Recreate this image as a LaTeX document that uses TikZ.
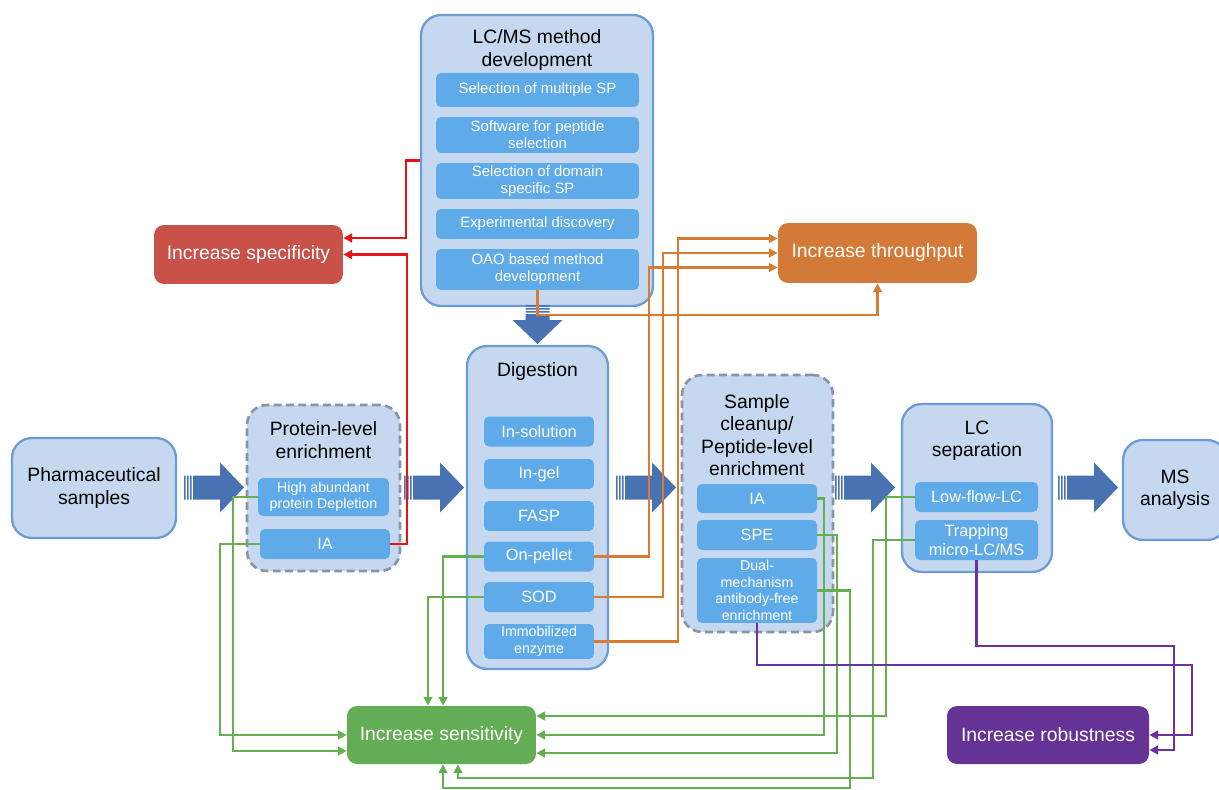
\documentclass[tikz,border=0pt]{standalone}
\usepackage{fontspec}
\setmainfont{Liberation Sans}
\usepackage{tikz}
\usetikzlibrary{arrows.meta}

\definecolor{boxfill}{RGB}{198,216,239}
\definecolor{boxline}{RGB}{108,155,214}
\definecolor{innerfill}{RGB}{95,171,234}
\definecolor{dashline}{RGB}{138,148,168}
\definecolor{arrowblue}{RGB}{72,114,177}
\definecolor{specred}{RGB}{200,82,74}
\definecolor{redline}{RGB}{230,20,25}
\definecolor{throrange}{RGB}{212,122,56}
\definecolor{orangeline}{RGB}{216,124,52}
\definecolor{sensgreen}{RGB}{99,173,84}
\definecolor{greenline}{RGB}{98,176,80}
\definecolor{robpurple}{RGB}{101,50,150}
\definecolor{purpleline}{RGB}{106,52,160}

\newcommand{\bigtxt}{\fontsize{11}{12.7}\selectfont}
\newcommand{\midtxt}{\fontsize{9.3}{10.8}\selectfont}
\newcommand{\lcmstxt}{\fontsize{8.5}{9.8}\selectfont}
\newcommand{\smalltxt}{\fontsize{8.1}{9.4}\selectfont}

\tikzset{
  stage/.style={draw=boxline, line width=1.3pt, fill=boxfill, rounded corners=0.4cm, inner sep=0pt, align=center, font=\bigtxt},
  optstage/.style={stage, draw=dashline, dash pattern=on 4.5pt off 2.5pt, line width=1.5pt},
  stagetitle/.style={align=center, font=\bigtxt},
  method/.style={fill=innerfill, rounded corners=0.1cm, text=white, align=center, inner sep=0pt, font=\midtxt},
  goal/.style={fill=#1, rounded corners=0.2cm, text=white, inner sep=0pt, font=\bigtxt},
  effect/.style={draw=#1, line width=1.3pt, -{Triangle[length=5pt,width=5pt]}},
  pics/flowarrow/.style={code={
    \fill[arrowblue] (0,-12) rectangle (1.5,12) (3,-12) rectangle (4.5,12) (6,-12) rectangle (7.5,12)
      (9,-12) rectangle (#1,12) (#1,-25) -- ++(24,25) -- ++(-24,25) -- cycle;
  }}
}

\begin{document}
\begin{tikzpicture}[x=0.02cm, y=-0.02cm]
\useasboundingbox (0,0) rectangle (1219,790);

\node[stage, minimum width=3.28cm, minimum height=2cm] (pharma) at (94,488) {Pharmaceutical\\samples};

\node[optstage, minimum width=3.06cm, minimum height=3.32cm] (protein) at (323.5,488) {};
\node[stagetitle] (proteintitle) at (323.5,440) {Protein-level\\enrichment};
\node[method, minimum width=2.62cm, minimum height=0.76cm, font=\smalltxt] (hapd) at (323.5,497) {High abundant\\protein Depletion};
\node[method, minimum width=2.6cm, minimum height=0.6cm] (pia) at (325,544) {IA};

\node[stage, minimum width=4.64cm, minimum height=5.82cm] (lcms) at (537,160.5) {};
\node[stagetitle] (lcmstitle) at (537,50) {LC/MS method\\development};
\foreach \name/\y/\h/\txt in {sp/90/0.68/{Selection of multiple SP}, software/135/0.72/{Software for peptide\\selection}, domain/181/0.72/{Selection of domain\\specific SP}, expdisc/224/0.6/{Experimental discovery}, oao/269.5/0.82/{OAO based method\\development}}
  \node[method, minimum width=4.06cm, minimum height=\h cm, font=\lcmstxt] (\name) at (537.5,\y) {\txt};

\node[stage, minimum width=2.82cm, minimum height=6.46cm] (digest) at (537.5,507.5) {};
\node[stagetitle] (digesttitle) at (537.5,372) {Digestion};
\foreach \name/\y/\txt in {insol/431.5/In-solution, ingel/474/In-gel, fasp/516/FASP, onpellet/556.5/On-pellet, sod/597/SOD}
  \node[method, minimum width=2.2cm, minimum height=0.6cm] (\name) at (539,\y) {\txt};
\node[method, minimum width=2.2cm, minimum height=0.7cm, font=\smalltxt] (immob) at (539,641.5) {Immobilized\\enzyme};

\node[optstage, minimum width=3.02cm, minimum height=5.14cm] (cleanup) at (757.5,503.5) {};
\node[stagetitle] (cleanuptitle) at (757,435) {Sample\\cleanup/\\Peptide-level\\enrichment};
\node[method, minimum width=2.4cm, minimum height=0.58cm] (cia) at (757,498.5) {IA};
\node[method, minimum width=2.4cm, minimum height=0.6cm] (spe) at (757,535) {SPE};
\node[method, minimum width=2.4cm, minimum height=1.3cm, font=\smalltxt] (dual) at (757,590.5) {Dual-\\mechanism\\antibody-free\\enrichment};

\node[stage, minimum width=3cm, minimum height=3.36cm] (lc) at (977,488) {};
\node[stagetitle] (lctitle) at (977,441) {LC\\separation};
\node[method, minimum width=2.46cm, minimum height=0.6cm] (lowflow) at (976.5,497) {Low-flow-LC};
\node[method, minimum width=2.46cm, minimum height=0.8cm] (trap) at (976.5,540) {Trapping\\micro-LC/MS};

\node[stage, minimum width=2.08cm, minimum height=2cm] (ms) at (1175,490) {MS\\analysis};

\node[goal=specred, minimum width=3.78cm, minimum height=1.18cm] (spec) at (248.5,254.5) {Increase specificity};
\node[goal=throrange, minimum width=3.98cm, minimum height=1.2cm] (thr) at (877.5,253) {Increase throughput};
\node[goal=sensgreen, minimum width=3.78cm, minimum height=1.16cm] (sens) at (441.5,735) {Increase sensitivity};
\node[goal=robpurple, minimum width=4.04cm, minimum height=1.16cm] (rob) at (1048,735) {Increase robustness};

\foreach \x in {184,404,616,835,1058}
  \pic at (\x,487.5) {flowarrow=36};
\pic[rotate=-90] at (537.5,305) {flowarrow=15};

\draw[effect=redline] (lcms.west) -- ++(-14,0) |- ([yshift=0.33cm]spec.east);
\draw[effect=redline] (pia.east) -- ++(17,0) |- (spec.east);

\draw[effect=orangeline] (oao.south) -- ++(0,25) -| (thr.south);
\draw[effect=orangeline] (onpellet.east) -- ++(55,0) |- ([yshift=-0.29cm]thr.west);
\draw[effect=orangeline] (sod.east) -- ++(69,0) |- (thr.west);
\draw[effect=orangeline] (immob.east) -- ++(84,0) |- ([yshift=0.29cm]thr.west);

\draw[effect=greenline] (hapd.west) -- ++(-25,0) |- ([yshift=-0.32cm]sens.west);
\draw[effect=greenline] (pia.west) -- ++(-40,0) |- (sens.west);
\draw[effect=greenline] (onpellet.west) -| ([xshift=0.03cm]sens.north);
\draw[effect=greenline] (sod.west) -| ([xshift=-0.27cm]sens.north);
\draw[effect=greenline] (cia.east) -- ++(7,0) |- (sens.east);
\draw[effect=greenline] (spe.east) -- ++(20,0) |- ([yshift=-0.36cm]sens.east);
\draw[effect=greenline] (dual.east) -- ++(33,0) -- ++(0,197.5) -| ([xshift=0.03cm]sens.south);
\draw[effect=greenline] (trap.west) -- ++(-42,0) -- ++(0,238) -| ([xshift=0.33cm]sens.south);
\draw[effect=greenline] (lowflow.west) -- ++(-29,0) |- ([yshift=0.38cm]sens.east);

\draw[effect=purpleline] (dual.south) -- ++(0,42) -- ++(435,0) |- (rob.east);
\draw[effect=purpleline] (trap.south) -- ++(0,86) -- ++(197.5,0) |- ([yshift=-0.3cm]rob.east);
\end{tikzpicture}
\end{document}
